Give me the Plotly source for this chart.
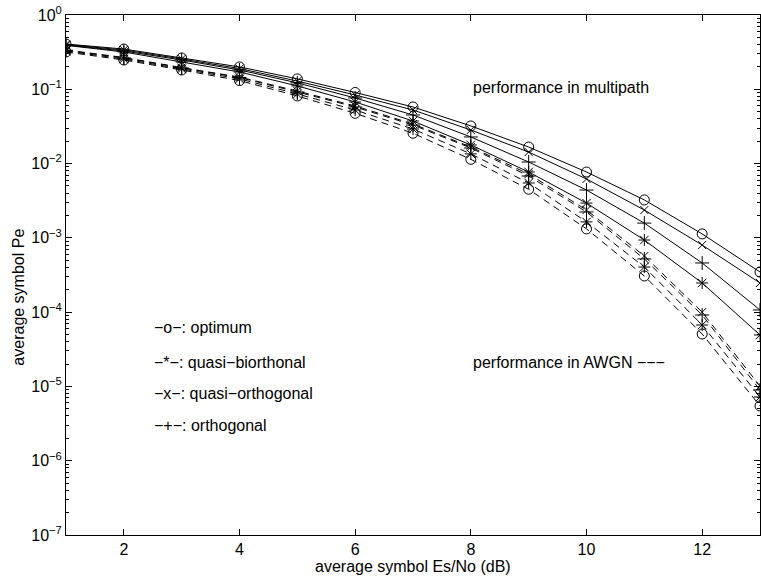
import plotly.graph_objects as go

snr_db = [1, 2, 3, 4, 5, 6, 7, 8, 9, 10, 11, 12, 13]

# multipath (solid)
mp_optimum = [0.407, 0.348, 0.264, 0.200, 0.138, 0.0906, 0.0578, 0.0321, 0.0167, 0.0077, 0.00324, 0.00113, 0.000347]
mp_quasi_orth = [0.400, 0.338, 0.256, 0.190, 0.129, 0.0838, 0.0526, 0.0283, 0.0143, 0.0062, 0.00237, 0.00080, 0.000247]
mp_orth = [0.395, 0.327, 0.248, 0.182, 0.122, 0.0764, 0.0451, 0.0228, 0.0105, 0.0044, 0.00158, 0.000459, 0.000107]
mp_quasi_biorth = [0.390, 0.318, 0.233, 0.171, 0.111, 0.0675, 0.0374, 0.0178, 0.0077, 0.00294, 0.000935, 0.000247, 0.0000493]

# AWGN (dashed)
aw_quasi_orth = [0.338, 0.268, 0.196, 0.146, 0.0948, 0.0596, 0.0341, 0.0167, 0.00724, 0.00237, 0.00057, 0.000100, 0.0000101]
aw_orth = [0.335, 0.264, 0.194, 0.144, 0.0920, 0.0578, 0.0330, 0.0162, 0.0068, 0.00223, 0.00052, 0.0000916, 0.00000895]
aw_quasi_biorth = [0.327, 0.256, 0.188, 0.138, 0.0865, 0.0526, 0.0292, 0.0135, 0.00548, 0.00164, 0.000405, 0.0000671, 0.00000721]
aw_optimum = [0.318, 0.248, 0.182, 0.131, 0.0813, 0.0475, 0.0256, 0.0114, 0.00451, 0.00132, 0.000307, 0.0000508, 0.00000546]

x_ticks = [2, 4, 6, 8, 10, 12]
y_exps = [0, -1, -2, -3, -4, -5, -6, -7]

legend_lines = ["\u2212o\u2212: optimum", "\u2212*\u2212: quasi\u2212biorthonal",
                "\u2212x\u2212: quasi\u2212orthogonal", "\u2212+\u2212: orthogonal"]

FONT = "Liberation Sans, Arial, sans-serif"
FS = 16

series = [
    (mp_optimum, "circle-open", 10, "solid"),
    (mp_quasi_orth, "x-thin-open", 8, "solid"),
    (mp_orth, "cross-thin-open", 10, "solid"),
    (mp_quasi_biorth, "asterisk-open", 10, "solid"),
    (aw_quasi_orth, "x-thin-open", 8, "7px,5px"),
    (aw_orth, "cross-thin-open", 10, "7px,5px"),
    (aw_quasi_biorth, "asterisk-open", 10, "7px,5px"),
    (aw_optimum, "circle-open", 10, "7px,5px"),
]

fig = go.Figure()
for vals, sym, sz, dash in series:
    fig.add_trace(go.Scatter(
        x=snr_db, y=vals, mode="lines+markers",
        line=dict(color="black", width=1, dash=dash),
        marker=dict(symbol=sym, size=sz, color="black",
                    line=dict(color="black", width=1)),
        showlegend=False,
    ))

minor_vals = [m * 10 ** e for e in range(-7, 0) for m in range(2, 10)]

fig.update_layout(
    width=761, height=579,
    margin=dict(l=66, r=1, t=15, b=44),
    paper_bgcolor="white", plot_bgcolor="white",
    font=dict(family=FONT, size=FS, color="black"),
    xaxis=dict(
        range=[1, 13], tickvals=x_ticks, ticks="inside", ticklen=6,
        tickcolor="black", showline=True, linecolor="black", linewidth=1,
        mirror="ticks", showgrid=False, zeroline=False,
        tickfont=dict(size=FS),
    ),
    yaxis=dict(
        type="log", range=[-7, 0],
        tickvals=[10 ** e for e in y_exps],
        ticktext=["10<sup>%s</sup>" % (str(e).replace("-", "\u2212")) for e in y_exps],
        ticks="inside", ticklen=6, tickcolor="black",
        showline=True, linecolor="black", linewidth=1, mirror="ticks",
        showgrid=False, zeroline=False, tickfont=dict(size=FS),
        minor=dict(tickvals=minor_vals, ticks="inside", ticklen=3,
                   tickcolor="black", showgrid=False),
    ),
)

annos = [
    dict(x=8.0, y=-0.98, text="performance in multipath"),
    dict(x=8.0, y=-4.68, text="performance in AWGN \u2212\u2212\u2212"),
]
leg_y = [-4.21, -4.68, -5.10, -5.53]
for t, yy in zip(legend_lines, leg_y):
    annos.append(dict(x=2.48, y=yy, text=t))
for a in annos:
    fig.add_annotation(xref="x", yref="y", xanchor="left", yanchor="middle",
                       showarrow=False, font=dict(size=FS), **a)

fig.add_annotation(xref="paper", yref="paper", x=-0.068, y=0.458,
                   text="average symbol Pe", textangle=-90, showarrow=False,
                   xanchor="center", yanchor="middle", font=dict(size=FS))
fig.add_annotation(xref="paper", yref="paper", x=0.5, y=-0.0615,
                   text="average symbol Es/No (dB)", showarrow=False,
                   xanchor="center", yanchor="middle", font=dict(size=FS))

fig.write_html("out.html")
